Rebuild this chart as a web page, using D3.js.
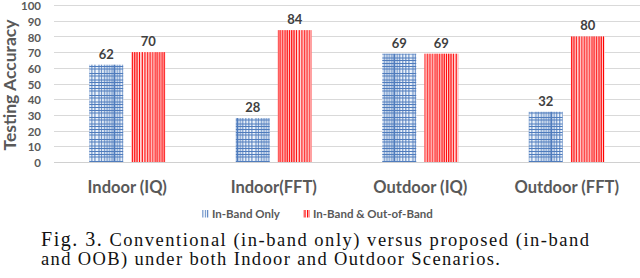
<!DOCTYPE html>
<html><head><meta charset="utf-8">
<script src="https://cdn.jsdelivr.net/npm/d3@7"></script>
<style>body{margin:0;background:#fff}svg{display:block}</style>
</head><body>
<svg id="c" width="640" height="278"></svg>
<script>
const categories = ["Indoor (IQ)", "Indoor(FFT)", "Outdoor (IQ)", "Outdoor (FFT)"];
const seriesNames = ["In-Band Only", "In-Band & Out-of-Band"];
const inBandOnly = [62, 28, 69, 32];
const inBandOOB = [70, 84, 69, 80];
const yTicks = [0,10,20,30,40,50,60,70,80,90,100];
const captionLabel = "Fig. 3.";
const captionLines = [" Conventional (in-band only) versus proposed (in-band",
                      "and OOB) under both Indoor and Outdoor Scenarios."];

const svg = d3.select("#c");
const defs = svg.append("defs");
const x = d3.scaleBand().domain(categories).range([54, 640]).paddingInner(0).paddingOuter(0);
const xs = d3.scaleBand().domain(seriesNames).range([-38, 38]).paddingInner(0.19);
const y = d3.scaleLinear().domain([0, 100]).range([162, 5]);
const gray = "#595959";
const font = "Lato, 'Open Sans', sans-serif";

// gridlines
svg.append("g").selectAll("line").data(yTicks).join("line")
  .attr("x1", 54).attr("x2", 640)
  .attr("y1", d => Math.round(y(d)) + 0.5).attr("y2", d => Math.round(y(d)) + 0.5)
  .attr("stroke", "#d9d9d9").attr("stroke-width", 1);

// y axis labels
const yAxis = d3.axisLeft(y).tickValues(yTicks).tickSize(0).tickPadding(0);
const ga = svg.append("g").attr("transform", "translate(41,1)").call(yAxis);
ga.select(".domain").remove();
ga.selectAll("text").attr("font-family", font).attr("font-weight", "bold")
  .attr("font-size", 11.5).attr("fill", gray);

// patterns
const blueV = [0.5, 3, 5.5, 8.5, 11.5, 14.5, 18.5, 21, 24, 26.5, 29, 31.5, 33.5];
const blueH = [0.5, 3, 7.5, 10, 14, 16.5, 19.5];
const redV = [1, 3.4, 5.8, 8, 10.2, 12.4, 14.6, 17, 19.8, 22.4, 25, 27.6, 30.2, 32.8];

function makePatterns(i) {
  const bx = x(categories[i]) + x.bandwidth() / 2 + xs(seriesNames[0]);
  const pb = defs.append("pattern").attr("id", "pb" + i).attr("patternUnits", "userSpaceOnUse")
    .attr("x", bx).attr("y", 0).attr("width", xs.bandwidth()).attr("height", 22);
  pb.append("rect").attr("width", xs.bandwidth()).attr("height", 22).attr("fill", "#eef4fb");
  pb.selectAll("line.v").data(blueV).join("line").attr("class", "v")
    .attr("x1", d => d).attr("x2", d => d).attr("y1", 0).attr("y2", 22)
    .attr("stroke", "#4f7cbd").attr("stroke-width", 1);
  pb.selectAll("line.h").data(blueH).join("line").attr("class", "h")
    .attr("y1", d => d).attr("y2", d => d).attr("x1", 0).attr("x2", xs.bandwidth())
    .attr("stroke", "#4f7cbd").attr("stroke-width", 1);
  const rx = x(categories[i]) + x.bandwidth() / 2 + xs(seriesNames[1]);
  const pr = defs.append("pattern").attr("id", "pr" + i).attr("patternUnits", "userSpaceOnUse")
    .attr("x", rx).attr("y", 0).attr("width", xs.bandwidth()).attr("height", 10);
  pr.append("rect").attr("width", xs.bandwidth()).attr("height", 10).attr("fill", "#fff");
  pr.selectAll("line").data(redV).join("line")
    .attr("x1", d => d).attr("x2", d => d).attr("y1", 0).attr("y2", 10)
    .attr("stroke", "#ff0000").attr("stroke-width", 1.3);
}
categories.forEach((c, i) => makePatterns(i));

const rows = categories.map((c, i) => ({c, i, vals: [inBandOnly[i], inBandOOB[i]]}));
const groups = svg.append("g").selectAll("g").data(rows).join("g")
  .attr("transform", d => `translate(${x(d.c) + x.bandwidth() / 2},0)`);
groups.selectAll("rect").data(d => d.vals.map((v, k) => ({v, k, i: d.i}))).join("rect")
  .attr("x", d => xs(seriesNames[d.k])).attr("width", xs.bandwidth())
  .attr("y", d => y(d.v)).attr("height", d => y(0) - y(d.v))
  .attr("fill", d => d.k === 0 ? `url(#pb${d.i})` : `url(#pr${d.i})`);
groups.selectAll("text").data(d => d.vals.map((v, k) => ({v, k}))).join("text")
  .attr("x", d => xs(seriesNames[d.k]) + xs.bandwidth() / 2)
  .attr("y", d => y(d.v) - 6).attr("text-anchor", "middle")
  .attr("font-family", font).attr("font-weight", "bold").attr("font-size", 13)
  .attr("fill", "#404040").text(d => d.v);

// x axis baseline
svg.append("line").attr("x1", 54).attr("x2", 640).attr("y1", Math.round(y(0)) + 0.5).attr("y2", Math.round(y(0)) + 0.5)
  .attr("stroke", "#d0d0d0");

// category labels
const xAxis = d3.axisBottom(x).tickSize(0).tickPadding(0);
const gx = svg.append("g").attr("transform", "translate(0,180)").call(xAxis);
gx.select(".domain").remove();
gx.selectAll("text").attr("font-family", font).attr("font-weight", "bold")
  .attr("font-size", 16.5).attr("fill", gray).attr("dy", "0.35em").attr("y", 7);

// y title
svg.append("text").attr("transform", "translate(16,85) rotate(-90)").attr("text-anchor", "middle")
  .attr("font-family", font).attr("font-weight", "bold").attr("font-size", 17.5).attr("fill", gray)
  .text("Testing Accuracy");

// legend
const legX = [202, 303];
const lg = svg.append("g").selectAll("g").data(seriesNames).join("g")
  .attr("transform", (d, k) => `translate(${legX[k]},210)`);
lg.append("rect").attr("width", 7).attr("height", 7.5)
  .attr("fill", (d, k) => k === 0 ? "url(#pbL)" : "url(#prL)");
lg.append("text").attr("x", 10).attr("y", 7.5).attr("font-family", font).attr("font-weight", "bold")
  .attr("font-size", 11.5).attr("fill", gray).text(d => d);
const pbL = defs.append("pattern").attr("id", "pbL").attr("patternUnits", "userSpaceOnUse")
  .attr("x", 202).attr("width", 2.4).attr("height", 30);
pbL.append("rect").attr("width", 1).attr("height", 30).attr("fill", "#4f7cbd");
const prL = defs.append("pattern").attr("id", "prL").attr("patternUnits", "userSpaceOnUse")
  .attr("x", 303).attr("width", 2.6).attr("height", 30);
prL.append("rect").attr("width", 1.3).attr("height", 30).attr("fill", "#ff0000");

// caption
const serif = "'Liberation Serif', 'Times New Roman', serif";
const cap = svg.append("g").attr("font-family", serif).attr("fill", "#111");
const t1 = cap.append("text").attr("x", 41).attr("y", 246)
  .attr("textLength", 548).attr("lengthAdjust", "spacing");
t1.append("tspan").attr("font-size", 20).text(captionLabel);
t1.append("tspan").attr("font-size", 18.5).text(captionLines[0]);
cap.append("text").attr("x", 41).attr("y", 265)
  .attr("textLength", 459).attr("lengthAdjust", "spacing")
  .attr("font-size", 18.5).text(captionLines[1]);
</script>
</body></html>
